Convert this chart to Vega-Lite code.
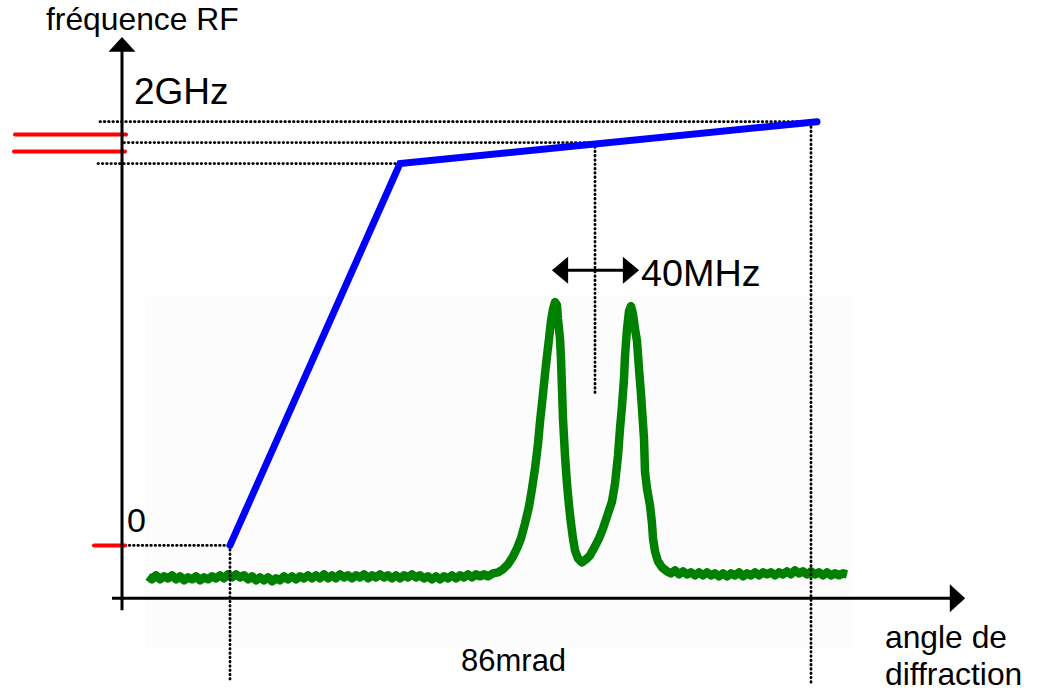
{
  "$schema": "https://vega.github.io/schema/vega-lite/v6.json",
  "width": 1039,
  "height": 692,
  "padding": 0,
  "autosize": {"type": "fit", "contains": "padding"},
  "background": "white",
  "config": {"view": {"stroke": null}},
  "encoding": {
    "x": {"field": "x", "type": "quantitative", "scale": {"domain": [0, 1039], "nice": false, "zero": false}, "axis": null},
    "y": {"field": "y", "type": "quantitative", "scale": {"domain": [0, 692], "nice": false, "zero": false, "reverse": true}, "axis": null}
  },
  "layer": [
    {
      "data": {"values": [{"x": 145, "y": 297, "x2": 852, "y2": 650}]},
      "mark": {"type": "rect", "color": "#fcfcfc"},
      "encoding": {"x2": {"field": "x2"}, "y2": {"field": "y2"}}
    },
    {
      "data": {"values": [
        {"x":148,"y":578},{"x":152,"y":581},{"x":156,"y":577},{"x":160,"y":581},{"x":164,"y":578},{"x":168,"y":580},{"x":172,"y":577},{"x":176,"y":581},{"x":180,"y":578},{"x":184,"y":582},{"x":188,"y":579},{"x":192,"y":581},{"x":196,"y":578},{"x":200,"y":582},{"x":204,"y":579},{"x":208,"y":581},{"x":212,"y":578},{"x":216,"y":580},{"x":220,"y":577},{"x":224,"y":580},{"x":228,"y":576},{"x":232,"y":579},{"x":236,"y":576},{"x":240,"y":579},{"x":244,"y":577},{"x":248,"y":581},{"x":252,"y":578},{"x":256,"y":582},{"x":260,"y":579},{"x":264,"y":582},{"x":268,"y":579},{"x":272,"y":583},{"x":276,"y":580},{"x":280,"y":582},{"x":284,"y":578},{"x":288,"y":581},{"x":292,"y":578},{"x":296,"y":581},{"x":300,"y":578},{"x":304,"y":580},{"x":308,"y":577},{"x":312,"y":580},{"x":316,"y":577},{"x":320,"y":580},{"x":324,"y":576},{"x":328,"y":580},{"x":332,"y":577},{"x":336,"y":580},{"x":340,"y":576},{"x":344,"y":579},{"x":348,"y":577},{"x":352,"y":580},{"x":356,"y":577},{"x":360,"y":579},{"x":364,"y":576},{"x":368,"y":580},{"x":372,"y":577},{"x":376,"y":579},{"x":380,"y":576},{"x":384,"y":579},{"x":388,"y":577},{"x":392,"y":580},{"x":396,"y":577},{"x":400,"y":580},{"x":404,"y":577},{"x":408,"y":579},{"x":412,"y":576},{"x":416,"y":579},{"x":420,"y":577},{"x":424,"y":580},{"x":428,"y":578},{"x":432,"y":581},{"x":436,"y":578},{"x":440,"y":581},{"x":444,"y":578},{"x":448,"y":580},{"x":452,"y":577},{"x":456,"y":580},{"x":460,"y":577},{"x":464,"y":579},{"x":468,"y":576},{"x":472,"y":579},{"x":476,"y":576},{"x":480,"y":578},{"x":484,"y":576},{"x":488,"y":578},{"x":493,"y":575},{"x":498,"y":574},
        {"x":503,"y":571},{"x":508,"y":566},{"x":513,"y":558},{"x":517,"y":550},{"x":521,"y":540},{"x":525,"y":525},{"x":529,"y":508},{"x":532,"y":490},{"x":535,"y":470},{"x":538,"y":445},{"x":540,"y":423},{"x":543,"y":395},{"x":545,"y":375},{"x":547,"y":357},{"x":549,"y":340},{"x":551,"y":322},{"x":553,"y":310},{"x":555,"y":303},{"x":557,"y":306},{"x":558,"y":320},{"x":560,"y":340},{"x":561,"y":360},{"x":562,"y":390},{"x":563,"y":420},{"x":565,"y":457},{"x":567,"y":485},{"x":569,"y":507},{"x":571,"y":525},{"x":573,"y":540},{"x":575,"y":552},{"x":578,"y":560},{"x":582,"y":564},{"x":586,"y":561},{"x":590,"y":557},{"x":595,"y":548},{"x":599,"y":540},{"x":603,"y":530},{"x":607,"y":518},{"x":612,"y":503},{"x":615,"y":485},{"x":618,"y":457},{"x":620,"y":430},{"x":622,"y":407},{"x":624,"y":380},{"x":625,"y":357},{"x":627,"y":330},{"x":629,"y":312},{"x":631,"y":307},{"x":633,"y":315},{"x":635,"y":330},{"x":637,"y":342},{"x":639,"y":370},{"x":641,"y":395},{"x":642,"y":410},{"x":644,"y":440},{"x":645,"y":473},{"x":647,"y":490},{"x":650,"y":507},{"x":652,"y":525},{"x":653,"y":540},{"x":655,"y":553},{"x":658,"y":563},{"x":662,"y":569},{"x":667,"y":573},
        {"x":671,"y":575},{"x":675,"y":572},{"x":679,"y":576},{"x":683,"y":573},{"x":687,"y":576},{"x":691,"y":574},{"x":695,"y":577},{"x":699,"y":574},{"x":703,"y":577},{"x":707,"y":574},{"x":711,"y":577},{"x":715,"y":575},{"x":719,"y":578},{"x":723,"y":575},{"x":727,"y":578},{"x":731,"y":575},{"x":735,"y":577},{"x":739,"y":574},{"x":743,"y":578},{"x":747,"y":575},{"x":751,"y":577},{"x":755,"y":574},{"x":759,"y":577},{"x":763,"y":574},{"x":767,"y":576},{"x":771,"y":574},{"x":775,"y":577},{"x":779,"y":574},{"x":783,"y":576},{"x":787,"y":573},{"x":791,"y":576},{"x":795,"y":572},{"x":799,"y":575},{"x":803,"y":573},{"x":807,"y":576},{"x":811,"y":573},{"x":815,"y":576},{"x":819,"y":574},{"x":823,"y":577},{"x":827,"y":574},{"x":831,"y":577},{"x":835,"y":575},{"x":839,"y":577},{"x":843,"y":575},{"x":847,"y":576}
      ]},
      "mark": {"type": "line", "color": "#008000", "strokeWidth": 8.5, "strokeJoin": "round", "strokeCap": "butt"}
    },
    {
      "data": {"values": [
        {"x": 100, "y": 122, "x2": 815, "y2": 122},
        {"x": 124, "y": 143, "x2": 595, "y2": 143},
        {"x": 98, "y": 164, "x2": 400, "y2": 164},
        {"x": 125, "y": 547, "x2": 230, "y2": 547},
        {"x": 230, "y": 547, "x2": 230, "y2": 681},
        {"x": 811, "y": 123, "x2": 811, "y2": 686},
        {"x": 595, "y": 143, "x2": 595, "y2": 395}
      ]},
      "mark": {"type": "rule", "color": "black", "strokeWidth": 2.8, "strokeDash": [0.5, 3.8], "strokeCap": "round"},
      "encoding": {"x2": {"field": "x2"}, "y2": {"field": "y2"}}
    },
    {
      "data": {"values": [{"x": 230, "y": 547}, {"x": 400, "y": 164}, {"x": 817, "y": 122}]},
      "mark": {"type": "line", "color": "#0000ff", "strokeWidth": 7, "strokeCap": "round", "strokeJoin": "miter"}
    },
    {
      "data": {"values": [
        {"x": 15, "y": 135, "x2": 126, "y2": 135},
        {"x": 14, "y": 152, "x2": 125, "y2": 152},
        {"x": 94, "y": 547, "x2": 125, "y2": 547}
      ]},
      "mark": {"type": "rule", "color": "#ff0000", "strokeWidth": 4, "strokeCap": "round"},
      "encoding": {"x2": {"field": "x2"}, "y2": {"field": "y2"}}
    },
    {
      "data": {"values": [
        {"x": 122, "y": 48, "x2": 122, "y2": 612},
        {"x": 112, "y": 600, "x2": 952, "y2": 600},
        {"x": 565, "y": 271, "x2": 626, "y2": 271}
      ]},
      "mark": {"type": "rule", "color": "black", "strokeWidth": 3},
      "encoding": {"x2": {"field": "x2"}, "y2": {"field": "y2"}}
    },
    {
      "data": {"values": [{"x": 122, "y": 44.5}]},
      "mark": {"type": "point", "filled": true, "color": "black", "opacity": 1, "size": 729, "shape": "M0,-0.55L1,0.55L-1,0.55Z"}
    },
    {
      "data": {"values": [{"x": 957.5, "y": 600}]},
      "mark": {"type": "point", "filled": true, "color": "black", "opacity": 1, "size": 784, "shape": "M0.55,0L-0.55,1L-0.55,-1Z"}
    },
    {
      "data": {"values": [{"x": 560, "y": 271}]},
      "mark": {"type": "point", "filled": true, "color": "black", "opacity": 1, "size": 729, "shape": "M-0.6,0L0.6,-1L0.6,1Z"}
    },
    {
      "data": {"values": [{"x": 631, "y": 271}]},
      "mark": {"type": "point", "filled": true, "color": "black", "opacity": 1, "size": 729, "shape": "M0.6,0L-0.6,-1L-0.6,1Z"}
    },
    {
      "data": {"values": [
        {"x": 46, "y": 30, "label": "fréquence RF"},
        {"x": 885, "y": 650, "label": "angle de"},
        {"x": 885, "y": 687, "label": "diffraction"}
      ]},
      "mark": {"type": "text", "font": "Liberation Sans", "fontSize": 31.8, "align": "left", "baseline": "alphabetic", "color": "black"},
      "encoding": {"text": {"field": "label"}}
    },
    {
      "data": {"values": [{"x": 134, "y": 104, "label": "2GHz"}]},
      "mark": {"type": "text", "font": "Liberation Sans", "fontSize": 37, "align": "left", "baseline": "alphabetic", "color": "black"},
      "encoding": {"text": {"field": "label"}}
    },
    {
      "data": {"values": [{"x": 641, "y": 287, "label": "40MHz"}]},
      "mark": {"type": "text", "font": "Liberation Sans", "fontSize": 37.8, "align": "left", "baseline": "alphabetic", "color": "black"},
      "encoding": {"text": {"field": "label"}}
    },
    {
      "data": {"values": [{"x": 127, "y": 534, "label": "0"}]},
      "mark": {"type": "text", "font": "Liberation Sans", "fontSize": 34, "align": "left", "baseline": "alphabetic", "color": "black"},
      "encoding": {"text": {"field": "label"}}
    },
    {
      "data": {"values": [{"x": 461, "y": 673, "label": "86mrad"}]},
      "mark": {"type": "text", "font": "Liberation Sans", "fontSize": 31, "align": "left", "baseline": "alphabetic", "color": "black"},
      "encoding": {"text": {"field": "label"}}
    }
  ]
}
